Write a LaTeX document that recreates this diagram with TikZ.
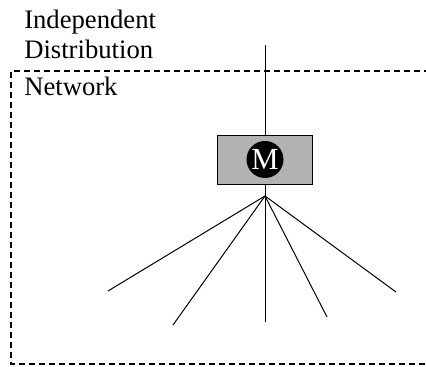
\documentclass[tikz,border=0pt]{standalone}
\usepackage{fontspec}
\setmainfont{Liberation Serif}
\usetikzlibrary{positioning}
\definecolor{mGray}{gray}{0.7}
\newlength{\unitpx}
\setlength{\unitpx}{0.75pt}
\tikzset{
    label/.style={anchor=base west, inner sep=0pt, font=\fontsize{20}{24}\selectfont},
    meterbox/.style={draw, fill=mGray, minimum width=95\unitpx, minimum height=49\unitpx, inner sep=0pt},
    meter/.style={circle, fill=black, text=white, minimum size=37\unitpx, inner sep=0pt, font=\fontsize{23}{26}\selectfont},
    wire/.style={line width=0.75pt},
    border/.style={line width=2.1pt, dash pattern=on 4.5pt off 3pt}
}
\begin{document}
\begin{tikzpicture}[x=0.75pt,y=-0.75pt]
\useasboundingbox (0,0) rectangle (426,367);
% network border, open on the right
\draw[border] (430,71)--(11,71)--(11,364)--(430,364);
\node[label] (ind) at (24,28.5) {Independent};
\node[label] (dist) at (24,58.5) {Distribution};
\node[label] (net) at (24,95.5) {Network};
% meter
\node[meterbox] (box) at (265,159.5) {};
\node[meter] (m) at (265,159.5) {M};
\coordinate (feed) at (265,45);
\coordinate (hub) at (265,196);
\coordinate (c1) at (108,291);
\coordinate (c2) at (173,325);
\coordinate (c3) at (265,322);
\coordinate (c4) at (327,317);
\coordinate (c5) at (396,292);
\draw[wire] (feed)--(box.north);
\draw[wire] (box.south)--(hub);
\foreach \c in {c1,c2,c3,c4,c5}
    \draw[wire] (hub)--(\c);
\end{tikzpicture}
\end{document}
